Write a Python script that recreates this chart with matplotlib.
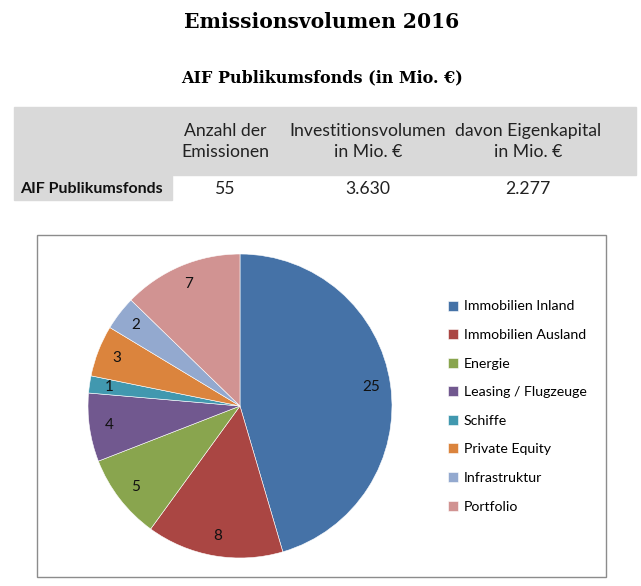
import matplotlib
matplotlib.use("Agg")
import matplotlib.pyplot as plt
from matplotlib.patches import Rectangle

# data
categories = ["Immobilien Inland", "Immobilien Ausland", "Energie", "Leasing / Flugzeuge",
              "Schiffe", "Private Equity", "Infrastruktur", "Portfolio"]
counts = [25, 8, 5, 4, 1, 3, 2, 7]
colors = ["#4572A7", "#AA4643", "#89A54E", "#71588F", "#4198AF", "#DB843D", "#93A9CF", "#D19392"]

col_headers = ["Anzahl der\nEmissionen", "Investitionsvolumen\nin Mio. €", "davon Eigenkapital\nin Mio. €"]
row_label = "AIF Publikumsfonds"
row_values = ["55", "3.630", "2.277"]

W, H = 641, 586
SANS = ["Lato", "DejaVu Sans"]
SERIF = ["DejaVu Serif"]

def fx(px): return px / W
def fy(py): return 1 - py / H

fig = plt.figure(figsize=(W / 100, H / 100), dpi=100)
fig.patch.set_facecolor("white")

fig.text(fx(322), fy(22), "Emissionsvolumen 2016", ha="center", va="center",
         family=SERIF, weight="bold", fontsize=14.6)
fig.text(fx(322), fy(78), "AIF Publikumsfonds (in Mio. €)", ha="center", va="center",
         family=SERIF, weight="bold", fontsize=11.5)

# table
grey = "#d9d9d9"
fig.patches.append(Rectangle((fx(14), fy(175)), fx(636) - fx(14), fy(107) - fy(175),
                             transform=fig.transFigure, color=grey, zorder=0))
fig.patches.append(Rectangle((fx(14), fy(200)), fx(172) - fx(14), fy(175) - fy(200),
                             transform=fig.transFigure, color=grey, zorder=0))
col_x = [225, 368, 528]
for x, h, v in zip(col_x, col_headers, row_values):
    fig.text(fx(x), fy(141.5), h, ha="center", va="center", family=SANS, fontsize=12.7,
             linespacing=1.38, color="#222222")
    fig.text(fx(x), fy(189), v, ha="center", va="center", family=SANS, fontsize=12.7,
             color="#222222")
fig.text(fx(20), fy(189), row_label, ha="left", va="center", family=SANS, fontsize=11.5,
         weight="bold", color="#111111")

# chart frame
fig.patches.append(Rectangle((fx(37), fy(577)), fx(606) - fx(37), fy(235) - fy(577),
                             transform=fig.transFigure, fill=False, edgecolor="#8c8c8c",
                             lw=1, zorder=1))

# pie
cx, cy, r = 240, 406, 152
ax = fig.add_axes([fx(cx - r), fy(cy + r), (2 * r) / W, (2 * r) / H])
total = sum(counts)
wedges, texts, autotexts = ax.pie(
    counts, colors=colors, startangle=90, counterclock=False, radius=1,
    autopct=lambda p: "%d" % round(p * total / 100), pctdistance=0.87,
    wedgeprops=dict(edgecolor="white", linewidth=0.4),
    textprops=dict(family=SANS, fontsize=11, color="#111111"))
ax.set_xlim(-1, 1)
ax.set_ylim(-1, 1)
ax.set_aspect("equal")
ax.axis("off")

leg = fig.legend(wedges, categories, loc="upper left", bbox_to_anchor=(fx(448), fy(300.5)),
                 frameon=False, prop=dict(family=SANS, size=10.2),
                 handlelength=0.7, handleheight=0.7, handletextpad=0.4,
                 labelspacing=1.17, borderaxespad=0, borderpad=0)

fig.savefig("out.png", dpi=100, facecolor="white")
